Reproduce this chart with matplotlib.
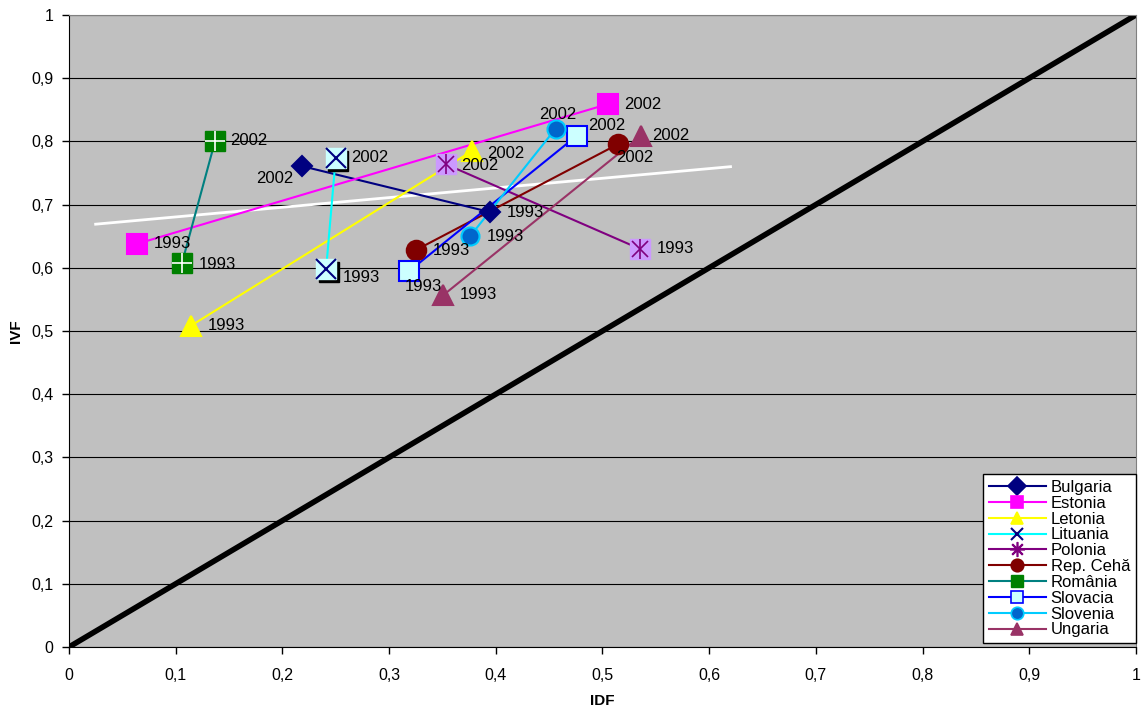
import matplotlib
matplotlib.use("Agg")
import matplotlib.pyplot as plt
from matplotlib.lines import Line2D
from matplotlib.ticker import FuncFormatter, MultipleLocator

plt.rcParams['font.family'] = ['Liberation Sans', 'DejaVu Sans']

# IDF / IVF values, 1993 and 2002
countries = ["Bulgaria", "Estonia", "Letonia", "Lituania", "Polonia",
             "Rep. Cehă", "România", "Slovacia", "Slovenia", "Ungaria"]
idf_1993 = [0.395, 0.064, 0.114, 0.241, 0.535, 0.325, 0.106, 0.319, 0.376, 0.351]
ivf_1993 = [0.688, 0.638, 0.508, 0.598, 0.630, 0.628, 0.608, 0.595, 0.650, 0.557]
idf_2002 = [0.218, 0.505, 0.378, 0.250, 0.353, 0.515, 0.137, 0.476, 0.456, 0.536]
ivf_2002 = [0.761, 0.859, 0.785, 0.774, 0.764, 0.796, 0.801, 0.809, 0.820, 0.809]
years = ["1993", "2002"]

# trend line and diagonal reference
trend_x = [0.025, 0.62]
trend_y = [0.669, 0.760]
diag = [0, 1]

x_ticks = [0, 0.1, 0.2, 0.3, 0.4, 0.5, 0.6, 0.7, 0.8, 0.9, 1]

# styling per country: line colour, marker, face, edge, size
styles = {
    "Bulgaria":  dict(color="#000080", marker="D", mfc="#000080", mec="#000080", ms=10),
    "Estonia":   dict(color="#FF00FF", marker="s", mfc="#FF00FF", mec="#FF00FF", ms=14),
    "Letonia":   dict(color="#FFFF00", marker="^", mfc="#FFFF00", mec="#FFFF00", ms=15),
    "Lituania":  dict(color="#00FFFF", marker="x", mfc="#000080", mec="#000080", ms=12),
    "Polonia":   dict(color="#800080", marker="s", mfc="#CC99FF", mec="#CC99FF", ms=14),
    "Rep. Cehă": dict(color="#800000", marker="o", mfc="#800000", mec="#800000", ms=14),
    "România":   dict(color="#008080", marker="s", mfc="#008000", mec="#008000", ms=14),
    "Slovacia":  dict(color="#0000FF", marker="s", mfc="#CCFFFF", mec="#0000FF", ms=14),
    "Slovenia":  dict(color="#00CCFF", marker="o", mfc="#0066CC", mec="#00CCFF", ms=13),
    "Ungaria":   dict(color="#993366", marker="^", mfc="#993366", mec="#993366", ms=15),
}

# label offsets in points (1993, 2002)
offsets = {
    "Bulgaria":  [(12, 0), (-33, -9)],
    "Estonia":   [(12, 0), (12, 0)],
    "Letonia":   [(12, 0), (11, -2)],
    "Lituania":  [(12, -6), (11, 0)],
    "Polonia":   [(12, 0), (11, -1)],
    "Rep. Cehă": [(12, 0), (-2, -10)],
    "România":   [(12, -1), (11, 0)],
    "Slovacia":  [(-3, -11), (8, 7)],
    "Slovenia":  [(12, 0), (-12, 10)],
    "Ungaria":   [(12, 0), (8, 0)],
}

fig = plt.figure(figsize=(11.42, 7.10), dpi=100)
ax = fig.add_axes([0.0604, 0.0887, 0.9343, 0.8902])
ax.set_facecolor("#C0C0C0")

ax.set_xlim(0, 1)
ax.set_ylim(0, 1)
ax.yaxis.set_major_locator(MultipleLocator(0.1))
ax.set_xticks(x_ticks)
fmt = FuncFormatter(lambda v, p: ("%g" % round(v, 2)).replace(".", ","))
ax.xaxis.set_major_formatter(fmt)
ax.yaxis.set_major_formatter(fmt)
ax.grid(axis="y", color="black", linewidth=0.8)
ax.set_axisbelow(True)
ax.tick_params(direction="out", length=5, width=1, labelsize=11.5, color="black", pad=6)
ax.tick_params(axis="x", pad=10)
for side in ("top", "right"):
    ax.spines[side].set_color("#808080")
for side in ("left", "bottom"):
    ax.spines[side].set_color("black")

ax.set_xlabel("IDF", fontsize=11, fontweight="bold", labelpad=8)
ax.set_ylabel("IVF", fontsize=11, fontweight="bold", labelpad=6)

ax.plot(diag, diag, color="black", linewidth=4, solid_capstyle="round", zorder=2)
ax.plot(trend_x, trend_y, color="white", linewidth=2, zorder=2)

handles = []
for i, name in enumerate(countries):
    st = styles[name]
    xs = [idf_1993[i], idf_2002[i]]
    ys = [ivf_1993[i], ivf_2002[i]]
    ax.plot(xs, ys, color=st["color"], linewidth=1.5, zorder=3)
    if name == "Lituania":
        # boxed cross with a drop shadow
        ax.plot(xs, ys, linestyle="none", marker="s", ms=15, mfc="black", mec="black",
                zorder=4, transform=ax.transData + matplotlib.transforms.ScaledTranslation(
                    2 / 72, -2 / 72, fig.dpi_scale_trans))
        ax.plot(xs, ys, linestyle="none", marker="s", ms=15, mfc="#CCFFFF", mec="#CCFFFF", zorder=5)
        ax.plot(xs, ys, linestyle="none", marker="x", ms=14, mew=1.5, color="#000080", zorder=6)
    elif name == "Polonia":
        ax.plot(xs, ys, linestyle="none", marker="s", ms=14, mfc="#CC99FF", mec="#CC99FF", zorder=5)
        ax.plot(xs, ys, linestyle="none", marker="x", ms=12, mew=1.2, color="#800080", zorder=6)
        ax.plot(xs, ys, linestyle="none", marker="|", ms=14, mew=1.2, color="#800080", zorder=6)
    elif name == "România":
        ax.plot(xs, ys, linestyle="none", marker="s", ms=14, mfc="#008000", mec="#008000", zorder=5)
        ax.plot(xs, ys, linestyle="none", marker="+", ms=14, mew=1.2, color="white", zorder=6)
    else:
        ax.plot(xs, ys, linestyle="none", marker=st["marker"], ms=st["ms"],
                mfc=st["mfc"], mec=st["mec"], mew=1.5, zorder=5)
    for j, (x, y) in enumerate(zip(xs, ys)):
        ax.annotate(years[j], (x, y), xytext=offsets[name][j], textcoords="offset points",
                    fontsize=12, ha="left", va="center", zorder=7)

    # legend entry
    if name == "Lituania":
        h = Line2D([], [], color=st["color"], linewidth=1.5, marker="x", ms=9, mew=1.5, mec="#000080")
    elif name == "Polonia":
        h = Line2D([], [], color=st["color"], linewidth=1.5, marker="$\u2733$", ms=10,
                   mfc="#800080", mec="#800080")
    elif name == "România":
        h = Line2D([], [], color=st["color"], linewidth=1.5, marker="s", ms=9,
                   mfc="#008000", mec="#008000")
    else:
        h = Line2D([], [], color=st["color"], linewidth=1.5, marker=st["marker"], ms=9,
                   mfc=st["mfc"], mec=st["mec"], mew=1.2)
    handles.append(h)

leg = ax.legend(handles, countries, loc="lower right", bbox_to_anchor=(1.0, 0.006),
                borderaxespad=0, fontsize=12, frameon=True, fancybox=False,
                edgecolor="black", framealpha=1, labelspacing=0.05, handlelength=3.4,
                handletextpad=0.3, borderpad=0.35)
leg.get_frame().set_linewidth(1)
leg.set_zorder(10)

fig.savefig("out.png", dpi=100, facecolor="white")
